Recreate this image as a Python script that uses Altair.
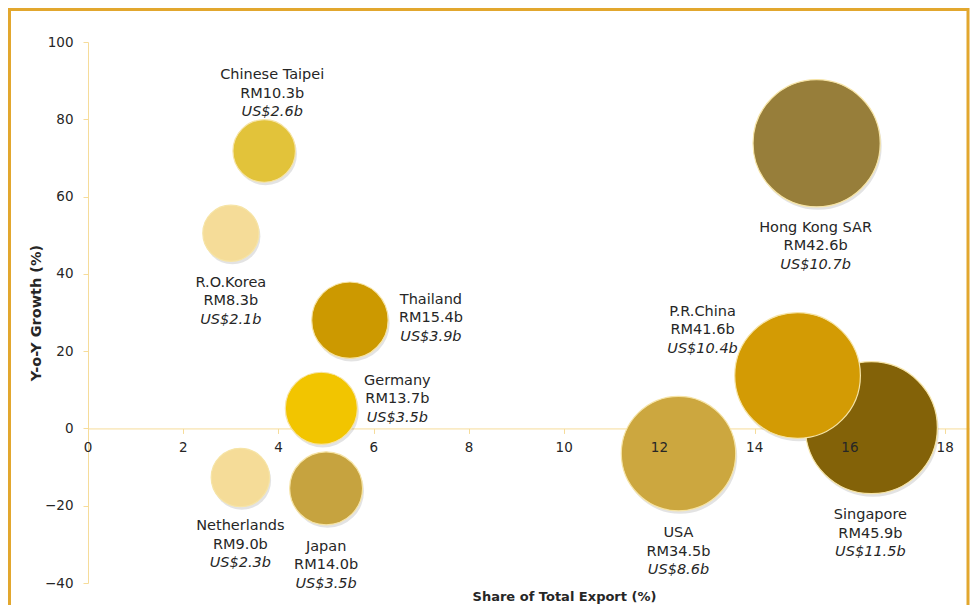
import altair as alt
import pandas as pd

# ---------------- data ----------------
countries = ["Singapore", "P.R.China", "Hong Kong SAR", "USA", "Thailand", "Japan",
             "Germany", "Chinese Taipei", "Netherlands", "R.O.Korea"]
share = [16.45, 14.9, 15.3, 12.4, 5.5, 5.0, 4.9, 3.7, 3.2, 3.0]
growth = [0.2, 13.7, 73.8, -6.5, 28.0, -15.5, 5.2, 71.8, -12.7, 50.5]
rm_value = [45.9, 41.6, 42.6, 34.5, 15.4, 14.0, 13.7, 10.3, 9.0, 8.3]
usd_value = [11.5, 10.4, 10.7, 8.6, 3.9, 3.5, 3.5, 2.6, 2.3, 2.1]
x_ticks = [0, 2, 4, 6, 8, 10, 12, 14, 16, 18]
y_ticks = [-40, -20, 0, 20, 40, 60, 80, 100]

# ---------------- styles ----------------
colors = {
    "Singapore": "#836208", "P.R.China": "#D39B04", "Hong Kong SAR": "#977E3A",
    "USA": "#CCA73F", "Thailand": "#CC9900", "Japan": "#C6A33F",
    "Germany": "#F2C500", "Chinese Taipei": "#E2C33A", "Netherlands": "#F5DC98",
    "R.O.Korea": "#F5DC98",
}
# pixel offset of the middle label line from the bubble centre
label_offsets = {
    "Singapore": (-1, 106), "P.R.China": (-95, -45), "Hong Kong SAR": (-1, 103),
    "USA": (0, 98), "Thailand": (81, -2), "Japan": (0, 77), "Germany": (76, -9),
    "Chinese Taipei": (8, -57), "Netherlands": (0, 67), "R.O.Korea": (0, 68),
}
FONT = "DejaVu Sans"
TXT = "#262626"
AXIS_COL = "#F6DC9A"
W, H = 881, 541
XMAX = 18.5
YMIN, YMAX = -40, 100
LINE = 18.5
LABEL_SIZE = 14.5

df = pd.DataFrame({
    "country": countries, "share": share, "growth": growth,
    "rm": rm_value, "usd": usd_value,
})
df["idx"] = range(len(df))
df["rm_label"] = df["rm"].map(lambda v: f"RM{v:.1f}b")
df["usd_label"] = df["usd"].map(lambda v: f"US${v:.1f}b")

tick_df = pd.DataFrame({"tick": x_ticks, "zero": [0] * len(x_ticks)})

zero_px = H * YMAX / (YMAX - YMIN)   # distance of y=0 from the top of the plot
below_zero = H - zero_px

xscale = alt.Scale(domain=[0, XMAX], nice=False, zero=False)
yscale = alt.Scale(domain=[YMIN, YMAX], nice=False, zero=False)
# vega circle symbols: size = diameter^2 ; Singapore (45.9) ~ 132px wide
size_scale = alt.Scale(domain=[0, 50], range=[0, 132 ** 2 * 50 / 45.9])
color_scale = alt.Scale(domain=list(colors.keys()), range=list(colors.values()))

base = alt.Chart(df)

x_axis = alt.Axis(
    values=x_ticks, grid=False, domainColor=AXIS_COL, tickColor=AXIS_COL,
    tickSize=5, labels=False,
    offset=-below_zero, title="Share of Total Export (%)", titleFont=FONT,
    titleFontSize=13, titleFontWeight="bold", titleColor=TXT,
    titleX=476, titleY=below_zero + 13, titleAlign="center",
    titleBaseline="middle")
y_axis = alt.Axis(
    values=y_ticks, grid=False, domainColor=AXIS_COL, tickColor=AXIS_COL,
    tickSize=5, labelFont=FONT, labelFontSize=13.5, labelColor=TXT, labelPadding=10,
    title="Y-o-Y Growth (%)", titleFont=FONT, titleFontSize=14.5,
    titleFontWeight="bold", titleColor=TXT, titleX=-52, titleY=H / 2,
    titleAngle=-90, titleAlign="center", titleBaseline="middle")

x_enc = alt.X("share:Q", scale=xscale, axis=x_axis)
y_enc = alt.Y("growth:Q", scale=yscale, axis=y_axis)

frame = alt.Chart(pd.DataFrame({"a": [0]})).mark_rect(
    fill=None, stroke="#E2A72E", strokeWidth=3
).encode(
    x=alt.value(-78.5), x2=alt.value(W - 1),
    y=alt.value(-32.5), y2=alt.value(H + 60),
)

shadow = base.mark_circle(opacity=0.11, color="#000000", xOffset=1.5, yOffset=3).encode(
    x=x_enc, y=y_enc,
    size=alt.Size("rm:Q", scale=size_scale, legend=None),
    order=alt.Order("idx:Q"),
)

bubbles = base.mark_circle(opacity=1, stroke="#F6E4A6", strokeWidth=1.2).encode(
    x=x_enc, y=y_enc,
    size=alt.Size("rm:Q", scale=size_scale, legend=None),
    color=alt.Color("country:N", scale=color_scale, legend=None),
    order=alt.Order("idx:Q"),
)

# x tick labels drawn above the bubbles (as in the reference)
tick_labels = alt.Chart(tick_df).mark_text(
    align="center", baseline="middle", font=FONT, fontSize=13.5, color=TXT, dy=20
).encode(
    x=alt.X("tick:Q", scale=xscale, axis=x_axis),
    y=alt.Y("zero:Q", scale=yscale, axis=y_axis),
    text=alt.Text("tick:Q"),
)

labels = []
for c in countries:
    dx, dy = label_offsets[c]
    sub = base.transform_filter(alt.datum.country == c)
    common = dict(align="center", baseline="middle", font=FONT, fontSize=LABEL_SIZE,
                  color=TXT, dx=dx)
    labels.append(sub.mark_text(dy=dy - LINE, **common).encode(text="country:N", x=x_enc, y=y_enc))
    labels.append(sub.mark_text(dy=dy, **common).encode(text="rm_label:N", x=x_enc, y=y_enc))
    labels.append(sub.mark_text(dy=dy + LINE, fontStyle="italic", **common)
                  .encode(text="usd_label:N", x=x_enc, y=y_enc))

chart = alt.layer(shadow, bubbles, tick_labels, frame, *labels).properties(
    width=W, height=H,
    autosize=alt.AutoSizeParams(type="none"),
    padding={"left": 80, "top": 34, "right": 1, "bottom": 22},
    background="white",
).configure_view(stroke=None)

chart.save("out.html", embed_options={"renderer": "svg", "actions": False})
